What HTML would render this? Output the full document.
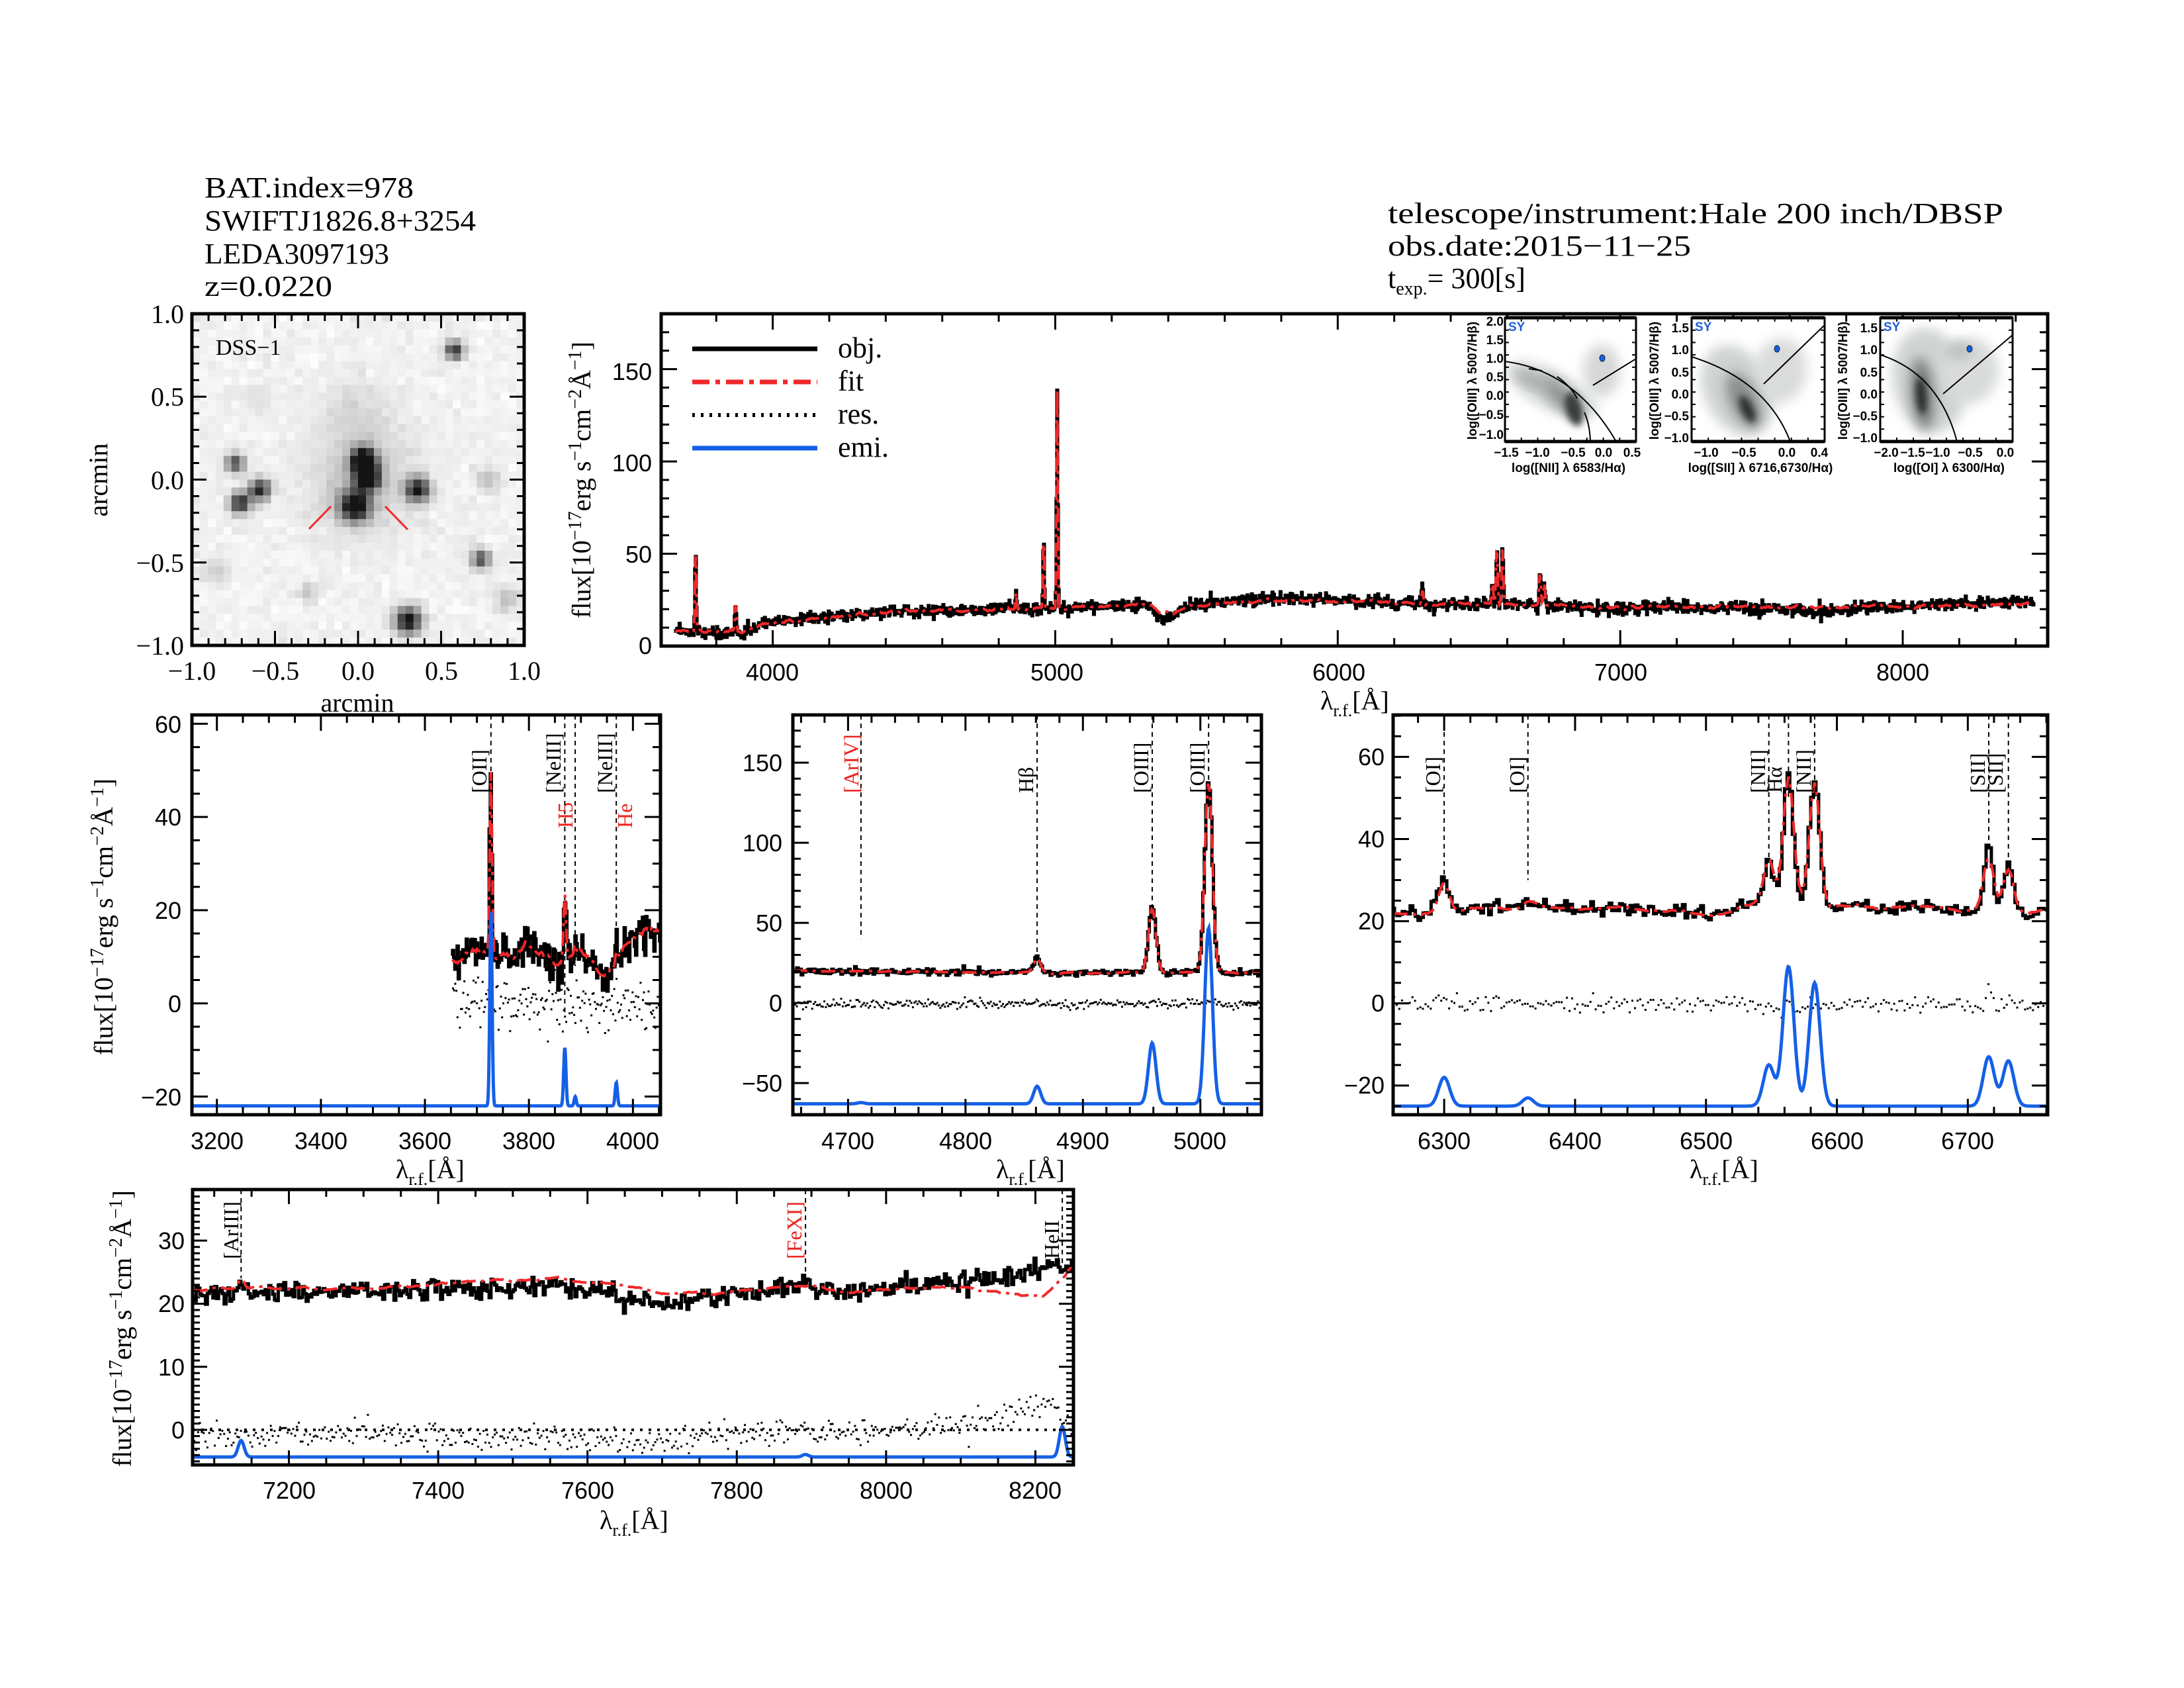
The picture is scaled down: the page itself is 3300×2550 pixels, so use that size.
<!DOCTYPE html>
<html><head><meta charset="utf-8">
<style>
html,body{margin:0;padding:0;background:#fff;}
svg{display:block;}
.s{font-family:"Liberation Serif",serif;fill:#000;}
.t{font-family:"Liberation Sans",sans-serif;fill:#000;font-size:36px;}
.b{font-family:"Liberation Sans",sans-serif;font-weight:bold;font-size:19px;fill:#000;}
</style></head>
<body>
<svg id="S" xmlns="http://www.w3.org/2000/svg" width="3300" height="2550" viewBox="0 0 3300 2550">
<rect width="3300" height="2550" fill="#fff"/>
<defs>
<clipPath id="cM"><rect x="999" y="474" width="2095" height="502"/></clipPath>
<clipPath id="cA"><rect x="290" y="1080" width="708" height="604"/></clipPath>
<clipPath id="cB"><rect x="1198" y="1080" width="708" height="604"/></clipPath>
<clipPath id="cC"><rect x="2105" y="1080" width="989" height="604"/></clipPath>
<clipPath id="cD"><rect x="291" y="1797" width="1331" height="416"/></clipPath>
<clipPath id="cDSS"><rect x="290" y="474" width="502" height="501"/></clipPath>
<filter id="bl" x="-50%" y="-50%" width="200%" height="200%"><feGaussianBlur stdDeviation="9"/></filter>
<filter id="bl2" x="-50%" y="-50%" width="200%" height="200%"><feGaussianBlur stdDeviation="5"/></filter>
</defs>
<g id="G"></g>

<!-- Headers -->
<g class="s" font-size="44">
<text x="309" y="298" textLength="316" lengthAdjust="spacingAndGlyphs">BAT.index=978</text>
<text x="309" y="348" textLength="410" lengthAdjust="spacingAndGlyphs">SWIFTJ1826.8+3254</text>
<text x="309" y="398" textLength="279" lengthAdjust="spacingAndGlyphs">LEDA3097193</text>
<text x="309" y="447" textLength="193" lengthAdjust="spacingAndGlyphs">z=0.0220</text>
<text x="2097" y="337" textLength="930" lengthAdjust="spacingAndGlyphs">telescope/instrument:Hale 200 inch/DBSP</text>
<text x="2097" y="386" textLength="458" lengthAdjust="spacingAndGlyphs">obs.date:2015−11−25</text>
<text x="2097" y="435">t<tspan font-size="28" dy="10">exp.</tspan><tspan dy="-10">= 300[s]</tspan></text>
</g>

<!-- DSS labels -->
<g class="s" font-size="40">
<text x="326" y="536" font-size="34">DSS−1</text>
<g text-anchor="end">
<text x="278" y="488">1.0</text><text x="278" y="613">0.5</text><text x="278" y="739">0.0</text><text x="278" y="864">−0.5</text><text x="278" y="989">−1.0</text>
</g>
<g text-anchor="middle">
<text x="290" y="1027">−1.0</text><text x="416" y="1027">−0.5</text><text x="541" y="1027">0.0</text><text x="667" y="1027">0.5</text><text x="792" y="1027">1.0</text>
<text x="540" y="1075">arcmin</text>
</g>
<text transform="translate(162,725) rotate(-90)" text-anchor="middle">arcmin</text>
</g>

<!-- Main panel text -->
<g class="t" text-anchor="end">
<text x="985" y="988">0</text><text x="985" y="850">50</text><text x="985" y="712">100</text><text x="985" y="574">150</text>
</g>
<g class="t" text-anchor="middle">
<text x="1167" y="1028">4000</text><text x="1597" y="1028">5000</text><text x="2023" y="1028">6000</text><text x="2449" y="1028">7000</text><text x="2875" y="1028">8000</text>
</g>
<g class="s" font-size="44">
<text x="1266" y="540">obj.</text><text x="1266" y="590">fit</text><text x="1266" y="640">res.</text><text x="1266" y="690">emi.</text>
</g>
<g class="s" font-size="40">
<text x="1995" y="1072">λ<tspan font-size="26" dy="10">r.f.</tspan><tspan dy="-10">[Å]</tspan></text>
<text transform="translate(892,725) rotate(-90)" text-anchor="middle">flux[10<tspan font-size="28" dy="-14">−17</tspan><tspan dy="14">erg s</tspan><tspan font-size="28" dy="-14">−1</tspan><tspan dy="14">cm</tspan><tspan font-size="28" dy="-14">−2</tspan><tspan dy="14">Å</tspan><tspan font-size="28" dy="-14">−1</tspan><tspan dy="14">]</tspan></text>
</g>

<!-- Panel A text -->
<g class="t" text-anchor="end">
<text x="274" y="1107">60</text><text x="274" y="1247">40</text><text x="274" y="1388">20</text><text x="274" y="1529">0</text><text x="274" y="1670">−20</text>
</g>
<g class="t" text-anchor="middle">
<text x="328" y="1736">3200</text><text x="485" y="1736">3400</text><text x="642" y="1736">3600</text><text x="799" y="1736">3800</text><text x="956" y="1736">4000</text>
</g>
<g class="s" font-size="40">
<text x="598" y="1780">λ<tspan font-size="26" dy="10">r.f.</tspan><tspan dy="-10">[Å]</tspan></text>
<text transform="translate(170,1385) rotate(-90)" text-anchor="middle">flux[10<tspan font-size="28" dy="-14">−17</tspan><tspan dy="14">erg s</tspan><tspan font-size="28" dy="-14">−1</tspan><tspan dy="14">cm</tspan><tspan font-size="28" dy="-14">−2</tspan><tspan dy="14">Å</tspan><tspan font-size="28" dy="-14">−1</tspan><tspan dy="14">]</tspan></text>
</g>

<!-- Panel B text -->
<g class="t" text-anchor="end">
<text x="1182" y="1165">150</text><text x="1182" y="1286">100</text><text x="1182" y="1407">50</text><text x="1182" y="1528">0</text><text x="1182" y="1649">−50</text>
</g>
<g class="t" text-anchor="middle">
<text x="1281" y="1736">4700</text><text x="1459" y="1736">4800</text><text x="1636" y="1736">4900</text><text x="1813" y="1736">5000</text>
</g>
<g class="s" font-size="40"><text x="1505" y="1780">λ<tspan font-size="26" dy="10">r.f.</tspan><tspan dy="-10">[Å]</tspan></text></g>

<!-- Panel C text -->
<g class="t" text-anchor="end">
<text x="2092" y="1156">60</text><text x="2092" y="1280">40</text><text x="2092" y="1404">20</text><text x="2092" y="1528">0</text><text x="2092" y="1652">−20</text>
</g>
<g class="t" text-anchor="middle">
<text x="2182" y="1736">6300</text><text x="2380" y="1736">6400</text><text x="2578" y="1736">6500</text><text x="2776" y="1736">6600</text><text x="2973" y="1736">6700</text>
</g>
<g class="s" font-size="40"><text x="2553" y="1780">λ<tspan font-size="26" dy="10">r.f.</tspan><tspan dy="-10">[Å]</tspan></text></g>

<!-- Panel D text -->
<g class="t" text-anchor="end">
<text x="279" y="1887">30</text><text x="279" y="1982">20</text><text x="279" y="2078">10</text><text x="279" y="2173">0</text>
</g>
<g class="t" text-anchor="middle">
<text x="437" y="2264">7200</text><text x="662" y="2264">7400</text><text x="888" y="2264">7600</text><text x="1113" y="2264">7800</text><text x="1339" y="2264">8000</text><text x="1564" y="2264">8200</text>
</g>
<g class="s" font-size="40">
<text x="906" y="2310">λ<tspan font-size="26" dy="10">r.f.</tspan><tspan dy="-10">[Å]</tspan></text>
<text transform="translate(198,2007) rotate(-90)" text-anchor="middle">flux[10<tspan font-size="28" dy="-14">−17</tspan><tspan dy="14">erg s</tspan><tspan font-size="28" dy="-14">−1</tspan><tspan dy="14">cm</tspan><tspan font-size="28" dy="-14">−2</tspan><tspan dy="14">Å</tspan><tspan font-size="28" dy="-14">−1</tspan><tspan dy="14">]</tspan></text>
</g>

<!-- Line markers labels -->
<g class="s" font-size="32">
<text transform="translate(735,1198) rotate(-90)">[OII]</text>
<text transform="translate(847,1198) rotate(-90)">[NeIII]</text>
<text transform="translate(865,1251) rotate(-90)" style="fill:#e8231f">H5</text>
<text transform="translate(925,1198) rotate(-90)">[NeIII]</text>
<text transform="translate(955,1251) rotate(-90)" style="fill:#e8231f">He</text>

<text transform="translate(1297,1198) rotate(-90)" style="fill:#e8231f">[ArIV]</text>
<text transform="translate(1561,1198) rotate(-90)">Hβ</text>
<text transform="translate(1735,1198) rotate(-90)">[OIII]</text>
<text transform="translate(1820,1198) rotate(-90)">[OIII]</text>

<text transform="translate(2176,1198) rotate(-90)">[OI]</text>
<text transform="translate(2303,1198) rotate(-90)">[OI]</text>
<text transform="translate(2667,1198) rotate(-90)">[NII]</text>
<text transform="translate(2692,1198) rotate(-90)">Hα</text>
<text transform="translate(2736,1198) rotate(-90)">[NII]</text>
<text transform="translate(2999,1198) rotate(-90)">[SII]</text>
<text transform="translate(3026,1198) rotate(-90)">[SII]</text>

<text transform="translate(360,1902) rotate(-90)">[ArIII]</text>
<text transform="translate(1211,1902) rotate(-90)" style="fill:#e8231f">[FeXI]</text>
<text transform="translate(1600,1902) rotate(-90)">HeII</text>
</g>

<!-- BPT inset text -->
<g class="b">
<text x="2279" y="500" style="fill:#1a5fd8">SY</text><text x="2561" y="500" style="fill:#1a5fd8">SY</text><text x="2846" y="500" style="fill:#1a5fd8">SY</text>
<g text-anchor="end">
<text x="2272" y="492">2.0</text><text x="2272" y="520">1.5</text><text x="2272" y="548">1.0</text><text x="2272" y="576">0.5</text><text x="2272" y="604">0.0</text><text x="2272" y="633">−0.5</text><text x="2272" y="663">−1.0</text>
<text x="2552" y="502">1.5</text><text x="2552" y="535">1.0</text><text x="2552" y="569">0.5</text><text x="2552" y="602">0.0</text><text x="2552" y="635">−0.5</text><text x="2552" y="668">−1.0</text>
<text x="2837" y="502">1.5</text><text x="2837" y="535">1.0</text><text x="2837" y="569">0.5</text><text x="2837" y="602">0.0</text><text x="2837" y="635">−0.5</text><text x="2837" y="668">−1.0</text>
</g>
<g text-anchor="middle">
<text x="2276" y="690">−1.5</text><text x="2323" y="690">−1.0</text><text x="2377" y="690">−0.5</text><text x="2423" y="690">0.0</text><text x="2466" y="690">0.5</text>
<text x="2370" y="713">log([NII] λ 6583/Hα)</text>
<text x="2578" y="690">−1.0</text><text x="2635" y="690">−0.5</text><text x="2700" y="690">0.0</text><text x="2749" y="690">0.4</text>
<text x="2660" y="713">log([SII] λ 6716,6730/Hα)</text>
<text x="2850" y="690">−2.0</text><text x="2890" y="690">−1.5</text><text x="2928" y="690">−1.0</text><text x="2977" y="690">−0.5</text><text x="3030" y="690">0.0</text>
<text x="2945" y="713">log([OI] λ 6300/Hα)</text>
<text transform="translate(2231,575) rotate(-90)">log([OIII] λ 5007/Hβ)</text>
<text transform="translate(2506,575) rotate(-90)">log([OIII] λ 5007/Hβ)</text>
<text transform="translate(2791,575) rotate(-90)">log([OIII] λ 5007/Hβ)</text>
</g>
</g>
</svg>
<script>
(function(){
var NS="http://www.w3.org/2000/svg";
var G=document.getElementById("G");
function mk(t,a,p){var e=document.createElementNS(NS,t);for(var k in a)e.setAttribute(k,a[k]);(p||G).appendChild(e);return e;}
var seed=987654;
function rnd(){seed|=0;seed=seed+0x6D2B79F5|0;var t=Math.imul(seed^seed>>>15,1|seed);t=t+Math.imul(t^t>>>7,61|t)^t;return((t^t>>>14)>>>0)/4294967296;}
function gn(){var u=0;while(!u)u=rnd();var v=rnd();return Math.sqrt(-2*Math.log(u))*Math.cos(2*Math.PI*v);}
function itp(k,x){if(x<=k[0][0])return k[0][1];for(var i=1;i<k.length;i++){if(x<=k[i][0]){var f=(x-k[i-1][0])/(k[i][0]-k[i-1][0]);return k[i-1][1]+f*(k[i][1]-k[i-1][1]);}}return k[k.length-1][1];}
function GS(l,L){var s=0;for(var i=0;i<L.length;i++){var d=(l-L[i][0])/L[i][2];s+=L[i][1]*Math.exp(-0.5*d*d);}return s;}
function smoothNoise(n,sig,w){var a=[];for(var i=0;i<n;i++)a.push(gn());var b=[];for(var i=0;i<n;i++){var s=0,c=0;for(var j=-w;j<=w;j++){if(a[i+j]!==undefined){s+=a[i+j];c++;}}b.push(s/c*sig*Math.sqrt(w+1));}return b;}

function Ax(P){
  P.sx=function(v){return P.x0+(v-P.xmin)/(P.xmax-P.xmin)*(P.x1-P.x0);};
  P.sy=function(v){return P.y1-(v-P.ymin)/(P.ymax-P.ymin)*(P.y1-P.y0);};
  return P;
}
function ticks(P,ml,nl){
  var d="",v,L;
  var st=Math.ceil(P.xmin/P.xmn-1e-9)*P.xmn;
  for(v=st;v<=P.xmax+1e-9;v+=P.xmn){var x=P.sx(v);var maj=Math.abs(v/P.xmaj-Math.round(v/P.xmaj))<1e-6;L=maj?ml:nl;d+="M"+x+" "+P.y1+"v"+(-L)+"M"+x+" "+P.y0+"v"+L;}
  st=Math.ceil(P.ymin/P.ymn-1e-9)*P.ymn;
  for(v=st;v<=P.ymax+1e-9;v+=P.ymn){var y=P.sy(v);var maj=Math.abs(v/P.ymaj-Math.round(v/P.ymaj))<1e-6;L=maj?ml:nl;d+="M"+P.x0+" "+y+"h"+L+"M"+P.x1+" "+y+"h"+(-L);}
  mk("path",{d:d,stroke:"#000","stroke-width":3,fill:"none"});
  mk("rect",{x:P.x0,y:P.y0,width:P.x1-P.x0,height:P.y1-P.y0,fill:"none",stroke:"#000","stroke-width":5});
}
function lineP(P,xs,ys,step){var d="";for(var i=0;i<xs.length;i++){var x=P.sx(xs[i]).toFixed(1),y=P.sy(ys[i]).toFixed(1);if(step&&i>0){var xm=((P.sx(xs[i-1])+P.sx(xs[i]))/2).toFixed(1);d+="H"+xm+"V"+y;}else d+=(i?"L":"M")+x+" "+y;}if(step)d+="H"+P.sx(xs[xs.length-1]).toFixed(1);return d;}
function dots(P,xs,ys,g){var d="";for(var i=0;i<xs.length;i++){d+="M"+P.sx(xs[i]).toFixed(1)+" "+P.sy(ys[i]).toFixed(1)+"h3v3h-3z";}mk("path",{d:d,fill:"#000"},g);}

var RED="#f0282a",BLUE="#1560e6";

function spec(P,cfg){
  var g=mk("g",{"clip-path":"url(#"+cfg.clip+")"});
  var xs=[],obs=[],fit=[],res=[];
  var n=Math.floor((cfg.l1-cfg.l0)/cfg.dl)+1;
  var sn=smoothNoise(n,cfg.fitwig||0,4);
  for(var i=0;i<n;i++){var l=cfg.l0+i*cfg.dl;xs.push(l);
    var c=itp(cfg.cont,l);var fk=cfg.fitcont?itp(cfg.fitcont,l):c;
    var f=fk+sn[i]+GS(l,cfg.lines);var o=c+GS(l,cfg.olines||cfg.lines)+gn()*cfg.noise+sn[i]*0.8;
    fit.push(f);obs.push(o);res.push(o-f+gn()*(cfg.resx||0));}
  if(cfg.marks){var d="";cfg.marks.forEach(function(m){var x=P.sx(m[0]).toFixed(1);d+="M"+x+" "+P.y0+"V"+P.sy(m[1]).toFixed(1);});mk("path",{d:d,stroke:"#000","stroke-width":2,"stroke-dasharray":"7 6",fill:"none"},g);}
  if(cfg.resid){ if(cfg.zline)mk("path",{d:"M"+P.x0+" "+P.sy(0)+"H"+P.x1,stroke:"#000","stroke-width":4,"stroke-dasharray":"4 9"},g); dots(P,xs,res,g);}
  mk("path",{d:lineP(P,xs,obs,true),stroke:"#000","stroke-width":cfg.bw||5,fill:"none","stroke-linejoin":"miter"},g);
  mk("path",{d:lineP(P,xs,fit,false),stroke:RED,"stroke-width":cfg.rw||4,fill:"none","stroke-dasharray":cfg.dash||"22 8 5 8"},g);
  if(cfg.emi){var ex=[],ey=[];for(var l=P.xmin;l<=P.xmax;l+=0.7){ex.push(l);ey.push(cfg.ebase+GS(l,cfg.emi));}
    mk("path",{d:lineP(P,ex,ey,false),stroke:BLUE,"stroke-width":5,fill:"none"},g);}
}

/* DSS image */
(function(){
  var g=mk("g",{"clip-path":"url(#cDSS)"});
  var N=42,x0=290,y0=474,w=502/N,h=501/N;
  var stars=[[0.58,0.78,190,0.04],[-0.74,0.10,170,0.04],[-0.59,-0.06,210,0.045],[-0.71,-0.14,210,0.045],
    [0.03,0.13,200,0.05],[0.06,0.0,220,0.05],[0.04,0.07,200,0.05],[-0.02,-0.16,245,0.065],[0.36,-0.06,225,0.05],
    [0.74,-0.48,170,0.04],[0.30,-0.85,245,0.055],[0.78,0.0,50,0.05],[0.9,-0.72,50,0.05],[-0.3,-0.68,50,0.04],
    [-0.85,-0.55,40,0.05],[0.02,0.0,45,0.22],[0.0,0.4,20,0.15],[-0.6,0.5,20,0.05]];
  for(var i=0;i<N;i++)for(var j=0;j<N;j++){
    var ax=-1+(i+0.5)*2/N, ay=1-(j+0.5)*2/N;
    var v=242+gn()*5; for(var k=0;k<stars.length;k++){var s=stars[k];var dx=ax-s[0],dy=ay-s[1];v-=s[2]*Math.exp(-(dx*dx+dy*dy)/(2*s[3]*s[3]));}
    v=Math.max(20,Math.min(253,Math.round(v)));
    mk("rect",{x:(x0+i*w).toFixed(2),y:(y0+j*h).toFixed(2),width:(w+0.6).toFixed(2),height:(h+0.6).toFixed(2),fill:"rgb("+v+","+v+","+v+")"},g);
  }
  mk("path",{d:"M467 799L500 765M582 765L616 800",stroke:RED,"stroke-width":3,fill:"none"});
  var P=Ax({x0:290,x1:792,y0:474,y1:975,xmin:-1,xmax:1,ymin:-1,ymax:1,xmaj:0.5,xmn:0.1,ymaj:0.5,ymn:0.1});
  ticks(P,22,11);
})();

/* Main spectrum */
(function(){
  var P=Ax({x0:999,x1:3094,y0:474,y1:976,xmin:3605,xmax:8513,ymin:0,ymax:180,xmaj:1000,xmn:200,ymaj:50,ymn:10});
  spec(P,{clip:"cM",l0:3655,l1:8465,dl:2.6,noise:1.6,fitwig:0.6,
    cont:[[3600,8],[3700,8],[3900,7],[3950,11],[4000,13],[4300,17],[4500,19],[5000,20.5],[5300,22],[5345,21],[5365,14],[5400,15],[5440,20],[5550,24],[5800,26],[6000,25],[6300,23],[6500,22.5],[6700,22],[7000,20.5],[7400,21],[7700,19],[7900,21],[8200,23],[8465,24]],
    fitcont:[[3600,8],[3700,8],[3900,8],[3950,11],[4000,12.5],[4300,17],[4500,19],[5000,20.5],[5300,22],[5345,22],[5370,18],[5420,18],[5460,21],[5550,23],[5800,25],[6000,24.5],[6300,23],[6500,22.5],[6700,22],[7000,21],[7400,21.5],[7700,21],[7900,21.5],[8200,22],[8465,23]],
    lines:[[3727,43,2.4],[3869,14,2.4],[4861,9,2.2],[4959,40,2.2],[5007,118,2.2],[6300,8,3],[6548,12,3],[6563,31,3],[6583,30,3],[6716,17,3],[6731,12,3]]});
  ticks(P,24,12);
  mk("path",{d:"M1046 527H1235",stroke:"#000","stroke-width":7});
  mk("path",{d:"M1046 577H1235",stroke:RED,"stroke-width":7,"stroke-dasharray":"26 9 7 9"});
  mk("path",{d:"M1046 627H1235",stroke:"#000","stroke-width":6,"stroke-dasharray":"4 9"});
  mk("path",{d:"M1046 677H1235",stroke:BLUE,"stroke-width":7});
})();

/* BPT insets */
(function(){
  function inset(x0,x1,blobs,curves,dot){
    var y0=480,y1=667;
    mk("rect",{x:x0,y:y0,width:x1-x0,height:y1-y0,fill:"#fff"});
    var cp="ci"+x0; var c=mk("clipPath",{id:cp}); mk("rect",{x:x0,y:y0,width:x1-x0,height:y1-y0},c);
    var g=mk("g",{"clip-path":"url(#"+cp+")"});
    blobs.forEach(function(b){mk("ellipse",{cx:b[0],cy:b[1],rx:b[2],ry:b[3],transform:"rotate("+b[4]+" "+b[0]+" "+b[1]+")",fill:b[5],filter:"url(#"+(b[6]||"bl")+")"},g);});
    curves.forEach(function(d){mk("path",{d:d,stroke:"#000","stroke-width":2,fill:"none"},g);});
    mk("ellipse",{cx:dot[0],cy:dot[1],rx:4,ry:5,fill:BLUE,stroke:"#123","stroke-width":1},g);
    var d="";
    for(var i=1;i<8;i++){var x=x0+(x1-x0)*i/8;d+="M"+x+" "+y0+"v6M"+x+" "+y1+"v-6";}
    for(var i=1;i<10;i++){var y=y0+(y1-y0)*i/10;d+="M"+x0+" "+y+"h6M"+x1+" "+y+"h-6";}
    mk("path",{d:d,stroke:"#000","stroke-width":2,fill:"none"});
    mk("rect",{x:x0,y:y0,width:x1-x0,height:y1-y0,fill:"none",stroke:"#000","stroke-width":3});
    mk("path",{d:"M"+x0+" "+y0+"H"+x1+"M"+x0+" "+y1+"H"+x1,stroke:"#000","stroke-width":5});
  }
  inset(2274,2472,
    [[2345,590,75,28,28,"#cfd3d2"],[2420,560,28,40,0,"#d6d8d8"],[2360,600,40,14,45,"#8e9291"],[2378,618,12,26,-15,"#3a3c3c","bl2"],[2318,575,30,10,25,"#a7abaa"]],
    ["M2274 546Q2380 560 2442 667","M2353 569Q2375 585 2383 602","M2394 623Q2402 640 2403 667","M2310 557L2330 560","M2407 582L2472 542"],[2421,541]);
  inset(2556,2757,
    [[2625,590,50,72,-25,"#cfd3d2"],[2690,560,40,50,10,"#dadcdc"],[2635,605,22,45,-25,"#8b8f8e"],[2640,618,9,22,-25,"#2f3131","bl2"]],
    ["M2556 539Q2670 575 2705 667","M2665 580L2757 491"],[2685,527]);
  inset(2841,3041,
    [[2915,575,55,80,-10,"#cfd3d2"],[2975,560,45,50,0,"#d9dbdb"],[2905,595,18,55,-5,"#7e8281"],[2903,598,8,28,-5,"#2b2d2d","bl2"],[2960,530,20,12,0,"#b9bdbc"]],
    ["M2841 536Q2930 565 2957 667","M2936 595L3041 506"],[2976,527]);
})();

/* Panel A */
(function(){
  var P=Ax({x0:290,x1:998,y0:1080,y1:1684,xmin:3152,xmax:4053,ymin:-23.9,ymax:61.9,xmaj:200,xmn:50,ymaj:20,ymn:5});
  spec(P,{clip:"cA",l0:3652,l1:4053,dl:2.2,noise:2.3,fitwig:0.9,resid:true,resx:1.8,
    cont:[[3650,9],[3700,11],[3760,10],[3800,13],[3850,9],[3900,11],[3930,8],[3950,6],[3975,11],[4000,14],[4053,17]],
    lines:[[3727,40,2.2],[3869,14,2.2],[3889,2,2],[3968,3,2]],
    emi:[[3727,42,2.2],[3869,12.5,2.2],[3889,2,2],[3968,5,2.2]],ebase:-22,
    marks:[[3727,-3],[3869,-3],[3889,8],[3968,8]]});
  ticks(P,24,12);
})();
/* Panel B */
(function(){
  var P=Ax({x0:1198,x1:1906,y0:1080,y1:1684,xmin:4653,xmax:5052,ymin:-69.8,ymax:179.8,xmaj:100,xmn:20,ymaj:50,ymn:10});
  spec(P,{clip:"cB",l0:4653,l1:5052,dl:1.3,noise:1.0,fitwig:0.4,resid:true,resx:1.0,
    cont:[[4653,20],[4750,19.5],[4850,19],[4900,18.5],[4950,19],[5052,19.5]],
    lines:[[4861,9,3],[4959,40,3.2],[5007,118,3.2]],olines:[[4861,9,3],[4959,41,3.2],[5007,119,3.2]],
    emi:[[4711,0.8,3],[4861,11,3],[4959,38,3.2],[5007,110,3.2]],ebase:-63,
    marks:[[4711,40],[4861,25],[4959,60],[5007,130]]});
  ticks(P,24,12);
})();
/* Panel C */
(function(){
  var P=Ax({x0:2105,x1:3094,y0:1080,y1:1684,xmin:6261,xmax:6761,ymin:-27.1,ymax:70.2,xmaj:100,xmn:20,ymaj:20,ymn:5});
  spec(P,{clip:"cC",l0:6261,l1:6761,dl:2.0,noise:0.8,fitwig:0.4,resid:true,resx:0.6,
    cont:[[6261,21.5],[6300,22.5],[6320,23],[6400,23.5],[6480,23],[6500,21.5],[6540,24],[6600,23.5],[6700,22.5],[6750,22],[6761,22.5]],
    lines:[[6300,7,4],[6364,1,4],[6548,11,4],[6563,31,4],[6583,30,4],[6716,13,4],[6731,11,4]],
    olines:[[6300,8,4],[6364,1.5,3],[6548,11,4],[6563,32,3.6],[6583,31,3.8],[6716,16,3.2],[6731,12,3.6]],
    emi:[[6300,7,4.2],[6364,2,4.2],[6548,10,4.2],[6563,34,4.2],[6583,30,4.2],[6716,12,4.2],[6731,11,4.2]],ebase:-25,
    marks:[[6300,30],[6364,30],[6548,35],[6563,50],[6583,50],[6716,38],[6731,35]]});
  ticks(P,24,12);
})();
/* Panel D */
(function(){
  var P=Ax({x0:291,x1:1622,y0:1797,y1:2213,xmin:7071,xmax:8251,ymin:-5.56,ymax:38.1,xmaj:200,xmn:50,ymaj:10,ymn:1});
  spec(P,{clip:"cD",l0:7072,l1:8250,dl:2.5,noise:0.8,fitwig:0.2,resid:true,resx:0.6,zline:true,
    cont:[[7071,21.5],[7300,22],[7500,22.5],[7560,23],[7620,22],[7700,20],[7800,21.5],[7900,22.8],[7950,21.5],[8000,22.5],[8100,23.5],[8200,25],[8251,26]],
    fitcont:[[7071,22.5],[7300,22.5],[7450,23.5],[7560,24],[7650,23],[7700,21.5],[7800,22],[7900,22.8],[7950,21.8],[8000,22.5],[8100,22.5],[8170,21.5],[8210,21],[8240,24],[8251,26]],
    lines:[[7136,1.5,4]],olines:[[7136,2,4],[7892,1.5,4]],
    emi:[[7136,2.6,4],[7892,0.4,4],[8236,4.8,4]],ebase:-4.3,
    marks:[[7136,24],[7892,25],[8236,26]]});
  ticks(P,22,11);
})();
})();
</script>
</body></html>
